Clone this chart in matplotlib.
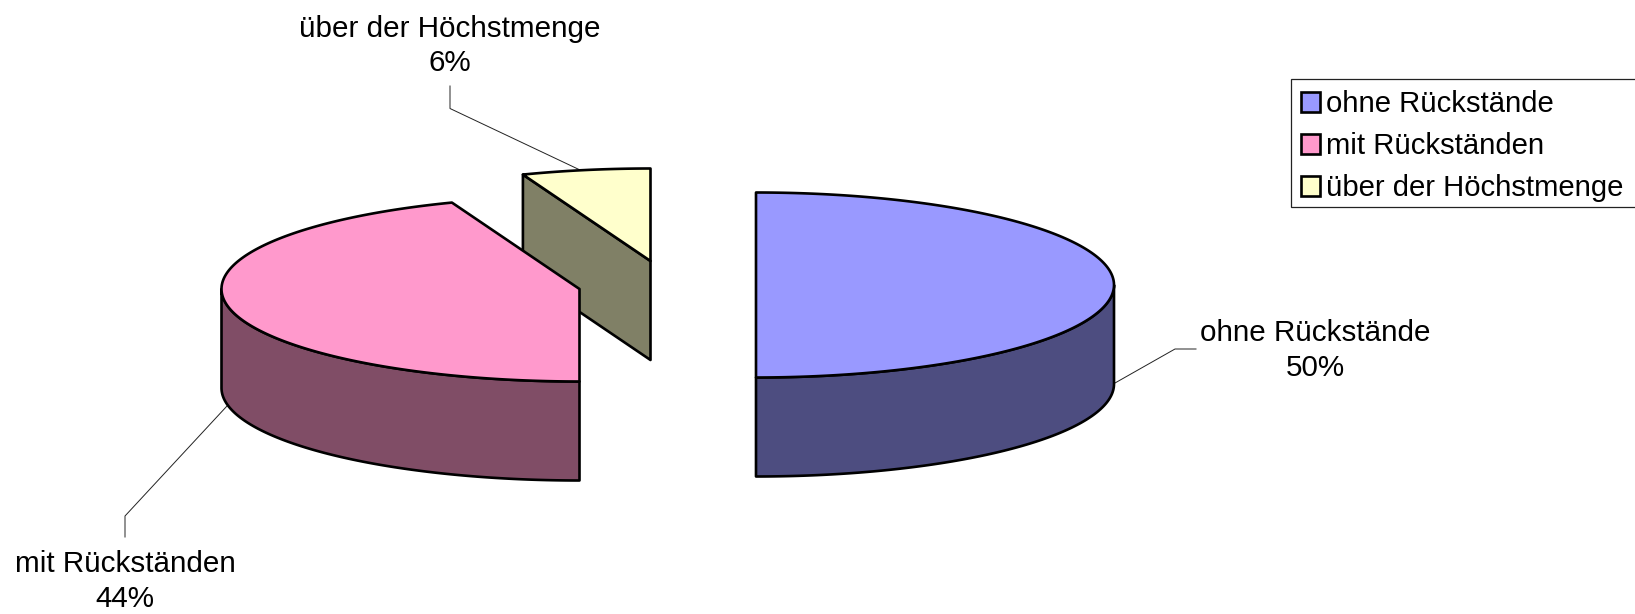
import numpy as np
import matplotlib
matplotlib.use("Agg")
import matplotlib.pyplot as plt
from matplotlib.patches import Polygon, Patch, Rectangle

plt.rcParams['font.family'] = ['Liberation Sans', 'DejaVu Sans']

categories = ["ohne Rückstände", "mit Rückständen", "über der Höchstmenge"]
values = [50, 44.2, 5.8]
top_colors = ["#9999FF", "#FF99CC", "#FFFFCC"]
side_colors = ["#4D4D80", "#804D66", "#808066"]

W, H = 1635, 614
A, B, DEPTH = 358, 92.5, 99
CENTERS = [(756, 285), (579.5, 289), (650.5, 261)]
LEADERS = [[(1115, 383), (1175, 349), (1196, 349)],
           [(227, 406), (125, 516), (125, 537)],
           [(450, 86), (450, 108.5), (579, 169.5)]]
LABEL_POS = [(1315, 350.5), (125, 581.5), (450, 46)]
FS = 21.3
LEG_FS = 21.1
LW = 1.9

fig = plt.figure(figsize=(W / 100, H / 100), dpi=100)
ax = fig.add_axes([0, 0, 1, 1])
ax.set_xlim(0, W)
ax.set_ylim(H, 0)
ax.axis("off")


def pt(c, deg, dz=0):
    t = np.radians(deg)
    return c[0] + A * np.sin(t), c[1] - B * np.cos(t) + dz


def poly(points, fc, z):
    ax.add_patch(Polygon(points, closed=True, fc=fc, ec="black", lw=LW,
                         joinstyle="round", zorder=z))


fractions = np.array(values) / sum(values)
edges = np.concatenate([[0], np.cumsum(fractions) * 360])
slices = list(zip(range(len(values)), edges[:-1], edges[1:]))

for order, (i, s, e) in enumerate(reversed(slices)):
    c = CENTERS[i]
    z = 2 + order * 3
    # radial cut faces that turn towards the viewer
    if np.sin(np.radians(s)) < -1e-9:
        p = pt(c, s)
        poly([c, p, (p[0], p[1] + DEPTH), (c[0], c[1] + DEPTH)], side_colors[i], z)
    if np.sin(np.radians(e)) > 1e-9:
        p = pt(c, e)
        poly([c, p, (p[0], p[1] + DEPTH), (c[0], c[1] + DEPTH)], side_colors[i], z)
    # outer wall: the front half of the rim
    lo, hi = max(s, 90), min(e, 270)
    if hi > lo:
        ang = np.linspace(lo, hi, 120)
        upper = [pt(c, a) for a in ang]
        lower = [pt(c, a, DEPTH) for a in ang[::-1]]
        poly(upper + lower, side_colors[i], z + 1)
    # top surface
    ang = np.linspace(s, e, 200)
    poly([c] + [pt(c, a) for a in ang], top_colors[i], z + 2)

for i, name in enumerate(categories):
    xs, ys = zip(*LEADERS[i])
    ax.plot(xs, ys, color="#222222", lw=0.7, zorder=1, solid_joinstyle="miter")
    ax.text(*LABEL_POS[i], f"{name}\n{round(values[i])}%", ha="center", va="center",
            fontsize=FS, color="black", linespacing=1.29, zorder=20)

# legend frame runs off the right edge of the picture
ax.add_patch(Rectangle((1291, 79), 360, 128, fc="white", ec="#222222", lw=0.9, zorder=25))
handles = [Patch(fc=c, ec="black", lw=LW) for c in top_colors]
fs_px = LEG_FS * 100 / 72
leg = fig.legend(handles, categories, loc="upper left",
                 bbox_to_anchor=(1301 / W, 1 - 90.5 / H), bbox_transform=fig.transFigure,
                 fontsize=LEG_FS, frameon=False, handlelength=19 / fs_px,
                 handleheight=19 / fs_px, handletextpad=6.5 / fs_px, borderpad=0,
                 borderaxespad=0, labelspacing=0.47)

fig.savefig("out.png", dpi=100, facecolor="white")
